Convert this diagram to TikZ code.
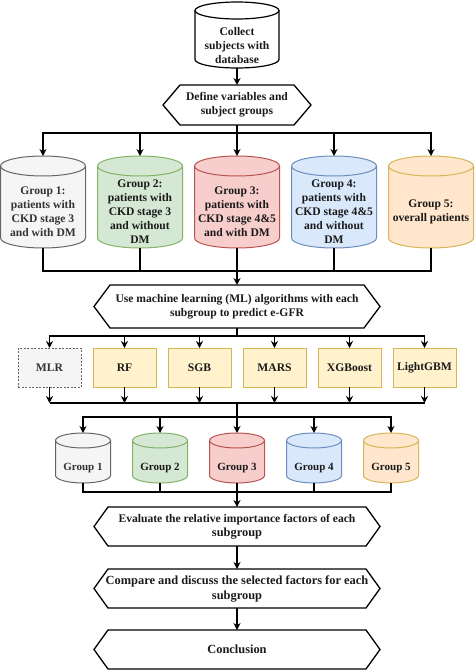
\documentclass[tikz,border=0pt]{standalone}
\usepackage{fontspec}
\setmainfont{Liberation Serif}
\usetikzlibrary{arrows.meta}
\definecolor{grayF}{HTML}{F5F5F5}\definecolor{grayD}{HTML}{666666}
\definecolor{greenF}{HTML}{D5E8D4}\definecolor{greenD}{HTML}{82B366}
\definecolor{redF}{HTML}{F8CECC}\definecolor{redD}{HTML}{B85450}
\definecolor{blueF}{HTML}{DAE8FC}\definecolor{blueD}{HTML}{6C8EBF}
\definecolor{orangeF}{HTML}{FFE6CC}\definecolor{goldD}{HTML}{D6B656}
\definecolor{yellowF}{HTML}{FFF2CC}
\definecolor{txt}{HTML}{1A1A1A}\definecolor{txtgray}{HTML}{333333}
\newcommand\cylshape[6]{%
  \path[#6] ({#1-#4},{#2+#5}) -- ({#1-#4},{#3-#5})
    arc[start angle=180,end angle=0,x radius=#4,y radius=#5]
    -- ({#1+#4},{#2+#5})
    arc[start angle=0,end angle=-180,x radius=#4,y radius=#5] -- cycle;
  \path[#6,fill=none] ({#1-#4},{#2+#5})
    arc[start angle=180,end angle=0,x radius=#4,y radius=#5];}
\newcommand\hexframe[2]{%
  \draw[ln] (#1.west) -- ([xshift=#2]#1.north west) -- ([xshift=-#2]#1.north east)
    -- (#1.east) -- ([xshift=-#2]#1.south east) -- ([xshift=#2]#1.south west) -- cycle;}
\tikzset{
  x=1pt,y=-1pt,
  every node/.style={font=\fontsize{11.6}{14}\selectfont\bfseries,text=txt,inner sep=0pt,outer sep=0pt,align=center},
  bigfont/.style={font=\fontsize{12.4}{15}\selectfont\bfseries},
  smallfont/.style={font=\fontsize{11}{13}\selectfont\bfseries},
  ln/.style={line width=1.3pt,draw=black},
  arr/.style={ln,-{Stealth[length=7pt,width=7pt]}},
  cylblack/.style={fill=white,draw=black,line width=1.2pt},
  cylgray/.style={fill=grayF,draw=grayD,line width=1pt},
  cylgreen/.style={fill=greenF,draw=greenD,line width=1pt},
  cylred/.style={fill=redF,draw=redD,line width=1pt},
  cylblue/.style={fill=blueF,draw=blueD,line width=1pt},
  cylorange/.style={fill=orangeF,draw=goldD,line width=1pt},
  hexnode/.style={minimum width=286pt,minimum height=39pt},
  algbox/.style={fill=yellowF,draw=goldD,line width=1pt,minimum width=63pt,minimum height=39pt},
  mlrbox/.style={fill=grayF,draw=grayD,line width=1pt,dash pattern=on 2pt off 1.5pt,minimum width=63pt,minimum height=39pt,text=txtgray},
  shape box/.style={minimum width=#1,inner sep=0pt},
}
\begin{document}
\begin{tikzpicture}
\useasboundingbox (0,0) rectangle (474,671);
% top database
\cylshape{237}{2}{68}{42}{8.5}{cylblack}
\node[minimum width=84pt,minimum height=66pt] (db) at (237,35) {};
\node (dbt) at (237,46) {Collect\\subjects with\\database};
% define
\node[minimum width=148pt,minimum height=40pt] (def) at (237,105) {Define variables and\\subject groups};
\hexframe{def}{17pt}
% groups
\foreach \c/\s/\n in {43/cylgray/g1,140/cylgreen/g2,237/cylred/g3,334/cylblue/g4,431/cylorange/g5}{
  \cylshape{\c}{156}{248}{42.5}{10}{\s}
  \node[minimum width=85pt,minimum height=92pt] (\n) at (\c,202) {};
}
\node[text=txtgray] (g1t) at (43,212) {Group 1:\\patients with\\CKD stage 3\\and with DM};
\node (g2t) at (140,212) {Group 2:\\patients with\\CKD stage 3\\and without\\DM};
\node (g3t) at (237,212) {Group 3:\\patients with\\CKD stage 4\&5\\and with DM};
\node (g4t) at (334,212) {Group 4:\\patients with\\CKD stage 4\&5\\and without\\DM};
\node (g5t) at (431,212) {Group 5:\\overall patients};
% ML hexagon
\node[hexnode,minimum height=43pt] (ml) at (237,306.5) {Use machine learning (ML) algorithms with each\\subgroup to predict e-GFR};
\hexframe{ml}{16pt}
% algorithm boxes
\node[mlrbox] (b1) at (49.5,367.5) {MLR};
\node[algbox] (b2) at (124.5,367.5) {RF};
\node[algbox] (b3) at (199.5,367.5) {SGB};
\node[algbox] (b4) at (274.5,367.5) {MARS};
\node[algbox] (b5) at (349.5,367.5) {XGBoost};
\node[algbox] (b6) at (424.5,367.5) {LightGBM};
% small cylinders
\foreach \c/\s/\n/\t in {83/cylgray/s1/1,160/cylgreen/s2/2,237/cylred/s3/3,314/cylblue/s4/4,391/cylorange/s5/5}{
  \cylshape{\c}{433}{483}{27.5}{7.5}{\s}
  \node[minimum width=55pt,minimum height=50pt] (\n) at (\c,458) {};
}
\node[smallfont,text=txtgray] (s1t) at (83,468) {Group 1};
\node[smallfont] (s2t) at (160,468) {Group 2};
\node[smallfont] (s3t) at (237,468) {Group 3};
\node[smallfont] (s4t) at (314,468) {Group 4};
\node[smallfont] (s5t) at (391,468) {Group 5};
% lower hexagons
\node[hexnode] (ev) at (237,526.5) {Evaluate the relative importance factors of each\\{\fontsize{12.4}{14}\selectfont subgroup}};
\hexframe{ev}{14pt}
\node[hexnode,bigfont] (cmp) at (237,588.5) {Compare and discuss the selected factors for each\\subgroup};
\hexframe{cmp}{14pt}
\node[hexnode,bigfont] (con) at (237,649.5) {Conclusion};
\hexframe{con}{14pt}
% connectors
\draw[arr] (db.south) -- (def.north);
\foreach \n in {g1,g2,g3,g4,g5}{\draw[arr] (def.south) -- ++(0,8) -| (\n.north);}
\foreach \n in {g1,g2,g4,g5}{\draw[ln] (\n.south) |- ([yshift=14pt]ml.north);}
\draw[arr] (g3.south) -- (ml.north);
\foreach \n in {b1,b2,b3,b4,b5,b6}{\draw[arr] (ml.south) -- ++(0,8) -| (\n.north);}
\coordinate (bus2) at (237,403);
\foreach \n in {b1,b2,b3,b4,b5,b6}{\draw[arr] (\n.south) -- (\n.south |- bus2);}
\draw[ln] (b1.south |- bus2) -- (b6.south |- bus2);
\coordinate (bus3) at (237,417);
\draw[ln] (bus2) -- (bus3);
\foreach \n in {s1,s2,s3,s4,s5}{\draw[arr] (bus3) -| (\n.north);}
\foreach \n in {s1,s2,s4,s5}{\draw[ln] (\n.south) |- ([yshift=15pt]ev.north);}
\draw[arr] (s3.south) -- (ev.north);
\draw[arr] (ev.south) -- (cmp.north);
\draw[arr] (cmp.south) -- (con.north);
\end{tikzpicture}
\end{document}
